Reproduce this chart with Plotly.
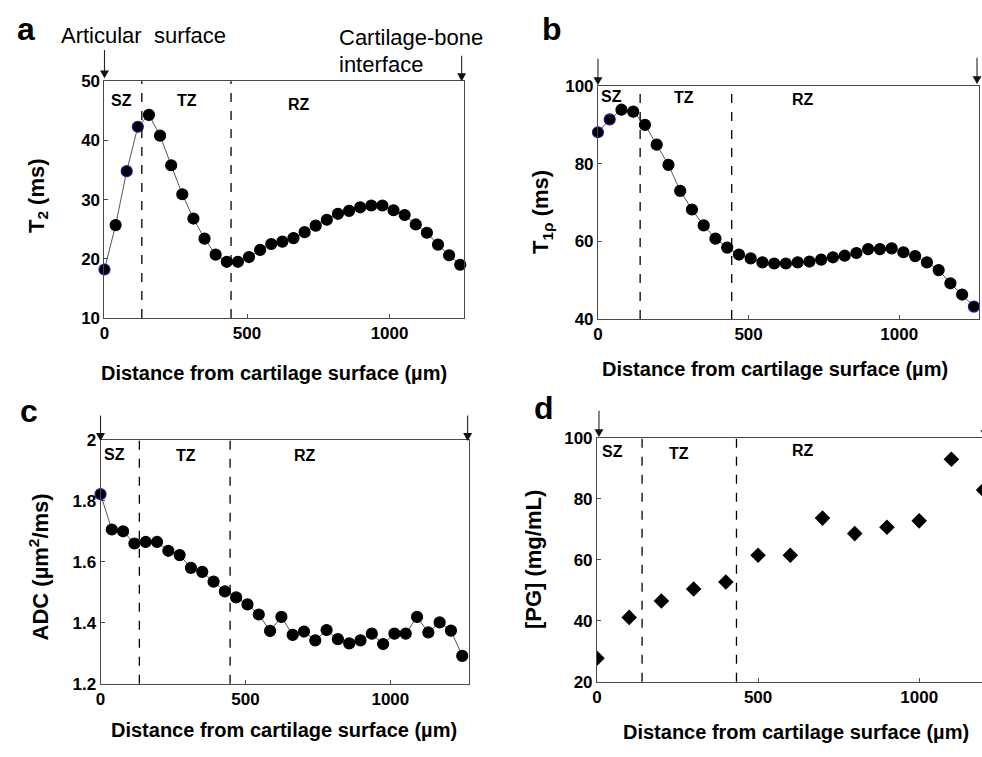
import plotly.graph_objects as go

W, H = 982, 757
FONT = "Liberation Sans, Arial, sans-serif"

# ---------------- data ----------------
depth_um = [0, 39, 78, 117, 156, 195, 234, 273, 312, 351, 390, 429, 468, 507, 546, 585,
            624, 663, 702, 741, 780, 819, 858, 897, 936, 975, 1014, 1053, 1092, 1131,
            1170, 1209, 1248]
t2_ms = [18.2, 25.7, 34.8, 42.3, 44.3, 40.8, 35.8, 30.9, 26.8, 23.4, 20.7, 19.5, 19.5,
         20.3, 21.5, 22.5, 22.9, 23.5, 24.5, 25.6, 26.6, 27.6, 28.1, 28.7, 29.0, 29.0,
         28.2, 27.4, 25.8, 24.4, 22.4, 20.6, 19.0]
t1rho_ms = [88.1, 91.4, 93.9, 93.4, 90.0, 84.9, 79.7, 73.0, 68.2, 64.1, 60.7, 58.4, 56.6,
            55.6, 54.6, 54.3, 54.3, 54.6, 54.8, 55.3, 55.9, 56.3, 57.0, 58.0, 58.0, 58.2,
            57.2, 56.2, 54.6, 52.6, 49.2, 46.3, 43.2]
adc_um2_ms = [1.822, 1.706, 1.700, 1.660, 1.665, 1.665, 1.636, 1.622, 1.580, 1.567, 1.535,
              1.503, 1.483, 1.460, 1.427, 1.373, 1.419, 1.360, 1.371, 1.342, 1.376, 1.346,
              1.332, 1.342, 1.364, 1.330, 1.364, 1.364, 1.419, 1.368, 1.401, 1.374, 1.291]
pg_depth_um = [0, 100, 200, 300, 400, 500, 600, 700, 800, 900, 1000, 1100, 1200]
pg_mg_ml = [27.7, 41.1, 46.5, 50.4, 52.7, 61.5, 61.5, 73.7, 68.6, 70.7, 72.8, 93.0, 82.9]

zone_names = ["SZ", "TZ", "RZ"]
boundaries_a = [131, 444]
boundaries_b = [140, 444]
boundaries_c = [134, 447]
boundaries_d = [140, 433]

x_ticks = [0, 500, 1000]
yticks_a = [10, 20, 30, 40, 50]
yticks_b = [40, 60, 80, 100]
yticks_c = [1.2, 1.4, 1.6, 1.8, 2.0]
yticks_c_text = ["1.2", "1.4", "1.6", "1.8", "2"]
yticks_d = [20, 40, 60, 80, 100]

x_title = "Distance from cartilage surface (µm)"


def px(x):
    return x / W


def py(y):
    return 1 - y / H


# panel geometry in pixels: left, right, top, bottom
panels = {
    "a": dict(l=100, r=461, t=74, b=317, xr=[0, 1260], yr=[10, 50]),
    "b": dict(l=596, r=979, t=79, b=318, xr=[0, 1265], yr=[40, 100]),
    "c": dict(l=96, r=466, t=442, b=692, xr=[0, 1270], yr=[1.2, 2.0]),
    "d": dict(l=595, r=982, t=440, b=690, xr=[0, 1195], yr=[20, 100]),
}

fig = go.Figure()

AX = dict(showline=True, linecolor="#4a4a4a", linewidth=1, showgrid=False, zeroline=False,
          ticks="inside", ticklen=4, tickcolor="#4a4a4a",
          tickfont=dict(family=FONT, size=17, color="black", weight="bold"))

layout = dict(width=W, height=H, margin=dict(l=0, r=0, t=0, b=0),
              paper_bgcolor="white", plot_bgcolor="white", showlegend=False)

names = ["a", "b", "c", "d"]
for i, k in enumerate(names):
    g = panels[k]
    sx = "" if i == 0 else str(i + 1)
    xa = dict(AX, domain=[px(g["l"]), px(g["r"])], range=g["xr"], anchor="y" + sx,
              tickvals=x_ticks, mirror=True)
    ya = dict(AX, domain=[py(g["b"]), py(g["t"])], range=g["yr"], anchor="x" + sx,
              mirror=(k != "d"))
    layout["xaxis" + sx] = xa
    layout["yaxis" + sx] = ya

layout["yaxis"]["tickvals"] = yticks_a
layout["yaxis2"]["tickvals"] = yticks_b
layout["yaxis3"]["tickvals"] = yticks_c
layout["yaxis3"]["ticktext"] = yticks_c_text
layout["yaxis4"]["tickvals"] = yticks_d


def edge_colors(n, blue_idx):
    return ["#1a1aa0" if j in blue_idx else "black" for j in range(n)]


line_style = dict(color="#555555", width=1)
series = [
    (depth_um, t2_ms, "x", "y", [0, 2, 3]),
    (depth_um, t1rho_ms, "x2", "y2", [0, 1, 32]),
    (depth_um, adc_um2_ms, "x3", "y3", [0]),
]
for xs, ys, xr, yr, blue in series:
    fig.add_trace(go.Scatter(
        x=xs, y=ys, xaxis=xr, yaxis=yr, mode="lines+markers", cliponaxis=False,
        line=line_style,
        marker=dict(symbol="circle", size=11, color="black",
                    line=dict(width=1.2, color=edge_colors(len(xs), blue)))))

fig.add_trace(go.Scatter(
    x=pg_depth_um, y=pg_mg_ml, xaxis="x4", yaxis="y4", mode="markers", cliponaxis=True,
    marker=dict(symbol="diamond", size=12, color="black", line=dict(width=0))))

# zone boundaries
shapes = []
for bnds, xr, yr in [(boundaries_a, "x", "y"), (boundaries_b, "x2", "y2"),
                     (boundaries_c, "x3", "y3"), (boundaries_d, "x4", "y4")]:
    for b in bnds:
        shapes.append(dict(type="line", xref=xr, yref=yr + " domain", x0=b, x1=b, y0=0, y1=1,
                           line=dict(color="black", width=1.3, dash="dash")))

# arrows (x, tip y, tail y) drawn as shaft + triangular head
arrows = [(100, 71, 42), (459, 74, 48), (596, 78, 51), (977, 77, 50),
          (96, 443, 417), (465, 443, 417), (597, 439, 412), (985, 440, 414)]
for ax_, tip, tail in arrows:
    shapes.append(dict(type="line", xref="paper", yref="paper",
                       x0=px(ax_), x1=px(ax_), y0=py(tail), y1=py(tip - 6),
                       line=dict(color="#222222", width=1.1)))
    path = "M {} {} L {} {} L {} {} Z".format(px(ax_ - 4.5), py(tip - 8), px(ax_ + 4.5),
                                              py(tip - 8), px(ax_), py(tip))
    shapes.append(dict(type="path", xref="paper", yref="paper", path=path,
                       fillcolor="#111111", line=dict(width=0)))
layout["shapes"] = shapes

ann = []


def text(x, y, s, size, bold=True, xanchor="center", yanchor="middle", angle=0):
    ann.append(dict(x=px(x), y=py(y), xref="paper", yref="paper", text=s, showarrow=False,
                    xanchor=xanchor, yanchor=yanchor, textangle=angle,
                    font=dict(family=FONT, size=size, color="black",
                              weight="bold" if bold else "normal")))


# panel letters
text(21, 21, "a", 32)
text(550, 21, "b", 32)
text(24, 412, "c", 32)
text(542, 409, "d", 32)

# header labels
text(54, 27, "Articular  surface", 22, bold=False, xanchor="left")
text(334, 29, "Cartilage-bone", 22, bold=False, xanchor="left")
text(334, 57, "interface", 22, bold=False, xanchor="left")

# zone labels
zone_pos = [
    [(117, 94), (183, 94), (296, 98)],
    [(610, 90), (682, 91), (802, 93)],
    [(110, 457), (182, 458), (302, 458)],
    [(611, 454), (677, 456), (802, 453)],
]
for zp in zone_pos:
    for (x, y), nm in zip(zp, zone_names):
        text(x, y, nm, 16)

# axis titles
text(270, 373, x_title, 20)
text(774, 369, x_title, 20)
text(280, 740, x_title, 20)
text(795, 742, x_title, 20)
text(33, 191, "T<sub>2</sub> (ms)", 22, angle=-90)
text(540, 208, "T<sub>1ρ</sub> (ms)", 22, angle=-90)
text(34, 572, "ADC (µm<sup>2</sup>/ms)", 22, angle=-90)
text(532, 565, "[PG] (mg/mL)", 22, angle=-90)

layout["annotations"] = ann
fig.update_layout(**layout)

fig.write_html("out.html", config={"displayModeBar": False},
               post_script="document.body.style.margin='0';document.body.style.overflow='hidden';")
